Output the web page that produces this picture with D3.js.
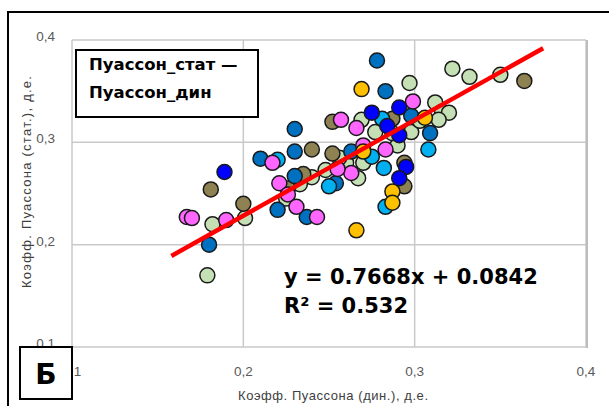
<!DOCTYPE html>
<html>
<head>
<meta charset="utf-8">
<script src="https://cdn.jsdelivr.net/npm/d3@7"></script>
<style>
  body { margin: 0; background: #fff; }
  svg { display: block; font-family: "Liberation Sans", Arial, sans-serif; }
</style>
</head>
<body>
<div id="chart"></div>
<script>
// data: [x dyn, y stat]
const lightGreen = [[0.322,0.372],[0.332,0.364],[0.350,0.366],[0.297,0.358],[0.312,0.339],[0.316,0.330],[0.320,0.329],
  [0.314,0.322],[0.269,0.322],[0.298,0.310],[0.277,0.310],[0.290,0.297],[0.270,0.280],[0.240,0.266],[0.267,0.265],
  [0.248,0.273],[0.201,0.226],[0.182,0.220],[0.179,0.170],[0.303,0.321],[0.260,0.280],[0.225,0.245],[0.233,0.259],
  [0.256,0.285],[0.287,0.309]];
const olive = [[0.364,0.360],[0.287,0.323],[0.252,0.320],[0.240,0.293],[0.252,0.289],[0.294,0.280],[0.235,0.269],
  [0.294,0.257],[0.181,0.254],[0.226,0.255],[0.200,0.240]];
const darkBlue = [[0.278,0.380],[0.283,0.350],[0.230,0.313],[0.309,0.309],[0.298,0.326],[0.230,0.291],[0.263,0.291],
  [0.210,0.284],[0.230,0.267],[0.254,0.260],[0.220,0.234],[0.237,0.227],[0.180,0.200]];
const lightBlue = [[0.281,0.323],[0.220,0.283],[0.250,0.257],[0.275,0.286],[0.282,0.275],[0.283,0.237],[0.308,0.293]];
const magenta = [[0.299,0.340],[0.257,0.322],[0.266,0.314],[0.270,0.297],[0.283,0.293],[0.217,0.280],[0.263,0.270],
  [0.221,0.260],[0.226,0.249],[0.231,0.237],[0.243,0.227],[0.190,0.224],[0.167,0.227],[0.170,0.226],[0.255,0.274]];
const blue = [[0.291,0.334],[0.275,0.329],[0.284,0.316],[0.291,0.307],[0.295,0.276],[0.291,0.265],[0.189,0.271]];
const orange = [[0.269,0.352],[0.306,0.324],[0.270,0.291],[0.287,0.252],[0.287,0.241],[0.266,0.214]];

// trend line as drawn (end points)
const trendX = [0.158, 0.375];
const trendY = [0.189, 0.392];

const xTicks = [0.1, 0.2, 0.3, 0.4];
const yTicks = [0.1, 0.2, 0.3, 0.4];

const series = [
  { name: "lg", color: "#c5e0b4", pts: lightGreen },
  { name: "ol", color: "#8e8152", pts: olive },
  { name: "db", color: "#0070c0", pts: darkBlue },
  { name: "lb", color: "#00b0f0", pts: lightBlue },
  { name: "mg", color: "#ff66ff", pts: magenta },
  { name: "bl", color: "#0000ff", pts: blue },
  { name: "or", color: "#ffc000", pts: orange }
];

const W = 609, H = 406;
const plot = { left: 72, right: 586, top: 40, bottom: 347 };

const svg = d3.select("#chart").append("svg")
    .attr("width", W)
    .attr("height", H);

// outer frame
svg.append("rect")
    .attr("x", 8).attr("y", 12)
    .attr("width", W).attr("height", H)
    .attr("fill", "none")
    .attr("stroke", "#000")
    .attr("stroke-width", 2);

const x = d3.scaleLinear().domain([0.1, 0.4]).range([plot.left, plot.right]);
const y = d3.scaleLinear().domain([0.1, 0.4]).range([plot.bottom, plot.top]);

// grid
const grid = svg.append("g");
grid.selectAll(".gx").data(xTicks).enter().append("line")
    .attr("x1", d => x(d)).attr("x2", d => x(d))
    .attr("y1", plot.top).attr("y2", plot.bottom)
    .attr("stroke", "#c9c9c9").attr("stroke-width", 1.5);
grid.selectAll(".gy").data(yTicks).enter().append("line")
    .attr("x1", plot.left).attr("x2", plot.right)
    .attr("y1", d => y(d)).attr("y2", d => y(d))
    .attr("stroke", "#c9c9c9").attr("stroke-width", 1.5);
// right edge a bit heavier
svg.append("line")
    .attr("x1", plot.right + 1).attr("x2", plot.right + 1)
    .attr("y1", plot.top).attr("y2", plot.bottom + 1)
    .attr("stroke", "#bdbdbd").attr("stroke-width", 2);

// tick labels
svg.append("g").selectAll("text").data(yTicks).enter().append("text")
    .attr("x", 55)
    .attr("y", d => y(d) + 1)
    .attr("text-anchor", "end")
    .attr("font-size", 13.5)
    .attr("fill", "#595959")
    .text(d => d3.format(".1f")(d).replace(".", ","));

svg.append("g").selectAll("text").data(xTicks).enter().append("text")
    .attr("x", d => x(d))
    .attr("y", 376)
    .attr("text-anchor", "middle")
    .attr("font-size", 13.5)
    .attr("fill", "#595959")
    .text(d => d3.format(".1f")(d).replace(".", ","));

// axis titles
svg.append("text")
    .attr("x", 333).attr("y", 400)
    .attr("text-anchor", "middle")
    .attr("font-size", 13)
    .attr("textLength", 190)
    .attr("fill", "#404040")
    .text("Коэфф. Пуассона (дин.), д.е.");

svg.append("text")
    .attr("transform", "translate(31,182) rotate(-90)")
    .attr("text-anchor", "middle")
    .attr("font-size", 13)
    .attr("textLength", 212)
    .attr("fill", "#404040")
    .text("Коэфф. Пуассона (стат.), д.е.");

// points
series.forEach(s => {
  svg.append("g").selectAll("circle")
    .data(s.pts)
    .enter().append("circle")
      .attr("cx", d => x(d[0]))
      .attr("cy", d => y(d[1]))
      .attr("r", 7.5)
      .attr("fill", s.color)
      .attr("stroke", "#1a1a1a")
      .attr("stroke-width", 1.5);
});

// trend line
svg.append("path")
    .datum(trendX.map((v, i) => [v, trendY[i]]))
    .attr("d", d3.line().x(d => x(d[0])).y(d => y(d[1])))
    .attr("stroke", "#ff0000")
    .attr("stroke-width", 4.5)
    .attr("fill", "none");

// equation
const eq = svg.append("text")
    .attr("font-family", "'DejaVu Sans', sans-serif")
    .attr("font-weight", "bold")
    .attr("font-size", 21)
    .attr("fill", "#000");
eq.append("tspan").attr("x", 284).attr("y", 284).text("y = 0.7668x + 0.0842");
eq.append("tspan").attr("x", 284).attr("y", 313).text("R² = 0.532");

// legend box
svg.append("rect")
    .attr("x", 76).attr("y", 50)
    .attr("width", 182).attr("height", 67)
    .attr("fill", "#fff")
    .attr("stroke", "#000")
    .attr("stroke-width", 2);
const lg = svg.append("text")
    .attr("font-family", "'DejaVu Sans', sans-serif")
    .attr("font-weight", "bold")
    .attr("font-size", 16.5)
    .attr("fill", "#000");
lg.append("tspan").attr("x", 89).attr("y", 70).text("Пуассон_стат —");
lg.append("tspan").attr("x", 89).attr("y", 98).text("Пуассон_дин");

// panel letter
svg.append("rect")
    .attr("x", 20).attr("y", 347)
    .attr("width", 52).attr("height", 52)
    .attr("fill", "#fff")
    .attr("stroke", "#000")
    .attr("stroke-width", 2);
svg.append("text")
    .attr("x", 46).attr("y", 384)
    .attr("text-anchor", "middle")
    .attr("font-family", "'DejaVu Sans', sans-serif")
    .attr("font-weight", "bold")
    .attr("font-size", 28)
    .text("Б");
</script>
</body>
</html>
